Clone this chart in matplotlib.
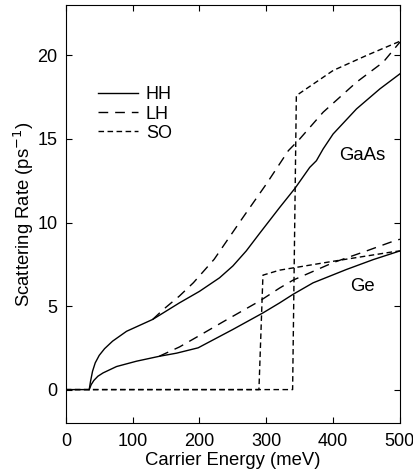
import matplotlib
matplotlib.use("Agg")
import matplotlib.pyplot as plt

plt.rcParams['font.family'] = ['Liberation Sans', 'DejaVu Sans']

# GaAs
gaas_hh_e = [0, 35, 37, 40, 44, 50, 58, 70, 90.9, 130, 170, 200, 230, 250, 270, 290, 320, 343, 365, 375, 385, 400, 435, 470, 500]
gaas_hh_r = [0, 0, 0.5, 1.1, 1.6, 2.05, 2.45, 2.9, 3.49, 4.2, 5.19, 5.88, 6.69, 7.4, 8.3, 9.35, 10.9, 12.05, 13.3, 13.7, 14.4, 15.3, 16.8, 18.0, 18.9]
gaas_lh_e = [130, 146, 170, 191, 222, 265, 300, 333, 350, 385, 435, 475, 500]
gaas_lh_r = [4.2, 4.8, 5.6, 6.4, 7.8, 10.3, 12.3, 14.3, 15.0, 16.6, 18.4, 19.6, 20.8]
gaas_so_e = [0, 339.4, 345, 400, 450, 500]
gaas_so_r = [0, 0, 17.6, 19.1, 20.0, 20.85]

# Ge
ge_hh_e = [35, 38, 42, 48, 55.8, 75.9, 105.8, 140.7, 165.7, 198, 250, 295, 320, 340, 370, 420, 460, 500]
ge_hh_r = [0, 0.3, 0.55, 0.8, 1.0, 1.38, 1.7, 2.0, 2.18, 2.5, 3.6, 4.59, 5.19, 5.7, 6.39, 7.19, 7.78, 8.3]
ge_lh_e = [140, 170, 198, 235, 250, 290, 320, 340, 400, 450, 490, 500]
ge_lh_r = [2.0, 2.55, 3.19, 4.05, 4.39, 5.3, 6.08, 6.55, 7.6, 8.3, 8.88, 9.0]
ge_so_e = [0, 289, 295, 320, 400, 490, 500]
ge_so_r = [0, 0, 6.85, 7.15, 7.68, 8.25, 8.3]

xticks = [0, 100, 200, 300, 400, 500]
yticks = [0, 5, 10, 15, 20]

fig = plt.figure(figsize=(4.14, 4.73), dpi=100)
ax = fig.add_axes([0.159, 0.1057, 0.807, 0.883])

lw = 1.0
long_dash = (0, (7, 5))
short_dash = (0, (4, 2.5))

ax.plot(gaas_hh_e, gaas_hh_r, color='black', lw=lw, label='HH')
ax.plot(gaas_lh_e, gaas_lh_r, color='black', lw=lw, linestyle=long_dash, label='LH')
ax.plot(gaas_so_e, gaas_so_r, color='black', lw=lw, linestyle=short_dash, label='SO')
ax.plot(ge_hh_e, ge_hh_r, color='black', lw=lw)
ax.plot(ge_lh_e, ge_lh_r, color='black', lw=lw, linestyle=long_dash)
ax.plot(ge_so_e, ge_so_r, color='black', lw=lw, linestyle=short_dash)

ax.text(443, 14.0, 'GaAs', fontsize=13.3, ha='center', va='center')
ax.text(444, 6.2, 'Ge', fontsize=13.3, ha='center', va='center')

ax.set_xlim(0, 500)
ax.set_ylim(-2, 23)
ax.set_xticks(xticks)
ax.set_yticks(yticks)
ax.tick_params(direction='in', top=True, right=True, length=4, labelsize=13, pad=6)
ax.tick_params(axis='x', pad=7.5)
ax.set_xlabel('Carrier Energy (meV)', fontsize=13.3, labelpad=1)
ax.set_ylabel('Scattering Rate (ps$^{-1}$)', fontsize=13.3, labelpad=1)

ax.legend(loc='upper left', bbox_to_anchor=(0.096, 0.806), frameon=False, fontsize=13,
          handlelength=2.2, handletextpad=0.45, labelspacing=0.12, borderpad=0,
          borderaxespad=0)

fig.savefig('out.png', dpi=100)
